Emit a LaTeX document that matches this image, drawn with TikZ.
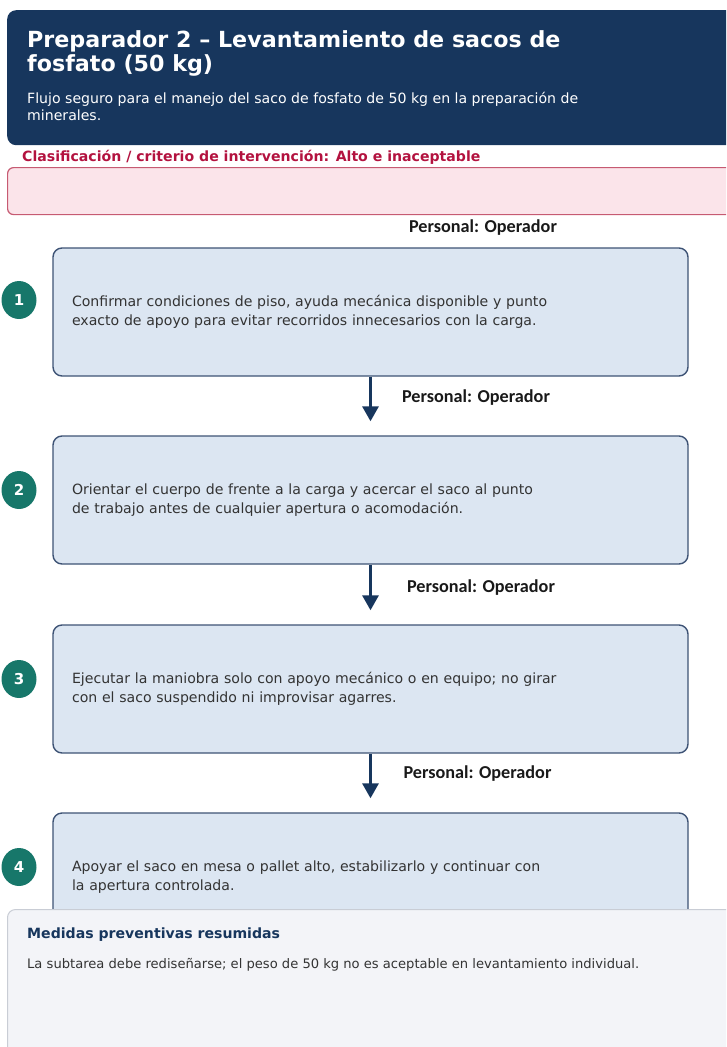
\documentclass[tikz,border=0pt]{standalone}
\usepackage{fontspec}
\setmainfont{DejaVu Sans}
\newfontfamily\labelfont{Carlito}
\usepackage{xcolor}
\usetikzlibrary{arrows.meta,positioning,shapes.geometric}
\definecolor{hdrNavy}{HTML}{17365D}
\definecolor{stepFill}{HTML}{DCE6F2}
\definecolor{stepLine}{HTML}{3E5375}
\definecolor{numTeal}{HTML}{17776A}
\definecolor{riskRed}{HTML}{B3123F}
\definecolor{riskFill}{HTML}{FBE4EA}
\definecolor{riskLine}{HTML}{C65A72}
\definecolor{sumFill}{HTML}{F3F4F8}
\definecolor{sumLine}{HTML}{C9CDD5}
\definecolor{txtGray}{HTML}{333333}

\begin{document}
\begin{tikzpicture}[x=1pt, y=-1pt, >=Triangle,
  stepbox/.style={draw=stepLine, line width=1.4pt, fill=stepFill, rounded corners=9pt,
    minimum width=635pt, minimum height=128pt, text width=597pt, align=left,
    text=txtGray, font=\fontsize{14.1pt}{19pt}\selectfont},
  num/.style={ellipse, fill=numTeal, minimum width=35pt, minimum height=38pt, inner sep=0pt, text=white,
    font=\bfseries\fontsize{15pt}{17pt}\selectfont},
  pers/.style={text=black!90, font=\labelfont\bfseries\fontsize{18.2pt}{20pt}\selectfont},
  flow/.style={hdrNavy, line width=3pt, -{Triangle[width=16pt,length=15pt]}}]
\useasboundingbox (0,0) rectangle (726,1047);
\clip (0,0) rectangle (726,1047);
% --- header ---
  \node[fill=hdrNavy, rounded corners=9pt, minimum width=740pt, minimum height=135pt,
    anchor=north west] (header) at (7,10) {};
  \node[anchor=north west, inner sep=0pt, text=white, align=left,
    font=\bfseries\fontsize{22.2pt}{24pt}\selectfont] (title) at (27,30)
    {Preparador 2 -- Levantamiento de sacos de\\fosfato (50 kg)};
  \node[anchor=north west, inner sep=0pt, text=white, align=left,
    font=\fontsize{14.1pt}{17pt}\selectfont] (subtitle) at (27,92)
    {Flujo seguro para el manejo del saco de fosfato de 50 kg en la preparación de\\minerales.};
% --- clasificacion ---
  \node[anchor=west, inner sep=0pt, text=riskRed,
    font=\bfseries\fontsize{14.1pt}{16pt}\selectfont] (clasif) at (22,157)
    {Clasificación / criterio de intervención: Alto e inaceptable};
  \node[draw=riskLine, line width=1.2pt, fill=riskFill, rounded corners=6pt,
    minimum width=740pt, minimum height=47pt, anchor=north west] (riesgo) at (7,167) {};
% --- pasos ---
  \node[stepbox] (s1) at (370.5,312) {Confirmar condiciones de piso, ayuda mecánica disponible y punto\\exacto de apoyo para evitar recorridos innecesarios con la carga.};
  \node[stepbox] (s2) at (370.5,500) {Orientar el cuerpo de frente a la carga y acercar el saco al punto\\de trabajo antes de cualquier apertura o acomodación.};
  \node[stepbox] (s3) at (370.5,689) {Ejecutar la maniobra solo con apoyo mecánico o en equipo; no girar\\con el saco suspendido ni improvisar agarres.};
  \node[stepbox] (s4) at (370.5,877) {Apoyar el saco en mesa o pallet alto, estabilizarlo y continuar con\\la apertura controlada.};
  \node[num] (n1) at (19,300) {1};
  \node[num] (n2) at (19,490) {2};
  \node[num] (n3) at (19,679) {3};
  \node[num] (n4) at (19,867) {4};
  \draw[flow] (s1.south) -- ([yshift=14pt]s2.north);
  \draw[flow] (s2.south) -- ([yshift=14pt]s3.north);
  \draw[flow] (s3.south) -- ([yshift=14pt]s4.north);
  \node[pers] (p1) at (483,228) {Personal: Operador};
  \node[pers] (p2) at (476,398) {Personal: Operador};
  \node[pers] (p3) at (481,588) {Personal: Operador};
  \node[pers] (p4) at (477.5,774) {Personal: Operador};
% --- resumen ---
  \node[draw=sumLine, line width=1pt, fill=sumFill, rounded corners=8pt,
    minimum width=740pt, minimum height=160pt, anchor=north west] (resumen) at (7,909) {};
  \node[anchor=west, inner sep=0pt, text=hdrNavy,
    font=\bfseries\fontsize{14.1pt}{16pt}\selectfont] (restit) at (27,935)
    {Medidas preventivas resumidas};
  \node[anchor=west, inner sep=0pt, text=txtGray,
    font=\fontsize{13.1pt}{15pt}\selectfont] (restxt) at (27,965)
    {La subtarea debe rediseñarse; el peso de 50 kg no es aceptable en levantamiento individual.};
\end{tikzpicture}
\end{document}
